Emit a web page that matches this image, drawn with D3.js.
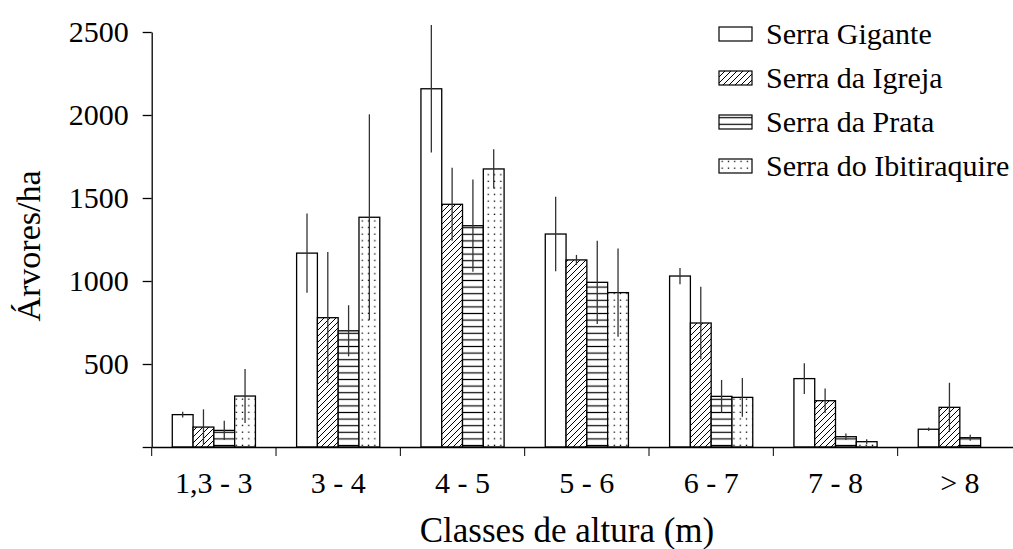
<!DOCTYPE html>
<html>
<head>
<meta charset="utf-8">
<script src="https://cdn.jsdelivr.net/npm/d3@7"></script>
<style>
  body { margin: 0; background: #fff; }
  svg { display: block; }
</style>
</head>
<body>
<svg id="chart" width="1013" height="549"></svg>
<script>
// height classes
const classes = ["1,3 - 3", "3 - 4", "4 - 5", "5 - 6", "6 - 7", "7 - 8", "> 8"];
const sites = ["Serra Gigante", "Serra da Igreja", "Serra da Prata", "Serra do Ibitiraquire"];

// trees per ha, one array per site (same order as classes)
const gigante = [195, 1168, 2158, 1283, 1030, 412, 107];
const igreja = [120, 779, 1462, 1127, 747, 279, 239];
const prata = [100, 700, 1333, 992, 305, 62, 56];
const ibitiraquire = [307, 1384, 1675, 930, 299, 32, 0];

// error bar half lengths
const giganteErr = [17, 239, 384, 225, 49, 93, 10];
const igrejaErr = [107, 395, 220, 30, 219, 74, 148];
const prataErr = [58, 154, 278, 251, 99, 20, 18];
const ibitiraquireErr = [163, 620, 118, 266, 117, 15, 0];

const yTicks = [0, 500, 1000, 1500, 2000, 2500];

const values = [gigante, igreja, prata, ibitiraquire];
const errors = [giganteErr, igrejaErr, prataErr, ibitiraquireErr];
const fills = ["#fff", "url(#diag)", "url(#horiz)", "url(#dots)"];
const FONT = "Liberation Serif, Tinos, Noto Serif, DejaVu Serif, Times, serif";

const svg = d3.select("#chart").attr("font-family", FONT);

const x = d3.scaleBand().domain(classes).range([151.7, 1022]).padding(0);
const xs = d3.scaleBand().domain(sites).range([0, x.bandwidth()]).paddingInner(0).paddingOuter(0.99);
const y = d3.scaleLinear().domain([0, 2500]).range([447, 32]);

// patterns
const defs = svg.append("defs");
const diag = defs.append("pattern").attr("id", "diag")
  .attr("patternUnits", "userSpaceOnUse").attr("width", 6).attr("height", 6);
diag.append("rect").attr("width", 6).attr("height", 6).attr("fill", "#fff");
diag.append("path").attr("d", "M0,6 L6,0 M-1,1 L1,-1 M5,7 L7,5")
  .attr("stroke", "#000").attr("stroke-width", 1);

const horiz = defs.append("pattern").attr("id", "horiz")
  .attr("patternUnits", "userSpaceOnUse").attr("width", 8).attr("height", 6.6);
horiz.append("rect").attr("width", 8).attr("height", 6.6).attr("fill", "#fff");
horiz.append("line").attr("x1", 0).attr("x2", 8).attr("y1", 3.3).attr("y2", 3.3)
  .attr("stroke", "#000").attr("stroke-width", 1.2);

const dots = defs.append("pattern").attr("id", "dots")
  .attr("patternUnits", "userSpaceOnUse").attr("width", 6.3).attr("height", 6.6);
dots.append("rect").attr("width", 6.3).attr("height", 6.6).attr("fill", "#fff");
dots.append("rect").attr("x", 2.5).attr("y", 2.5).attr("width", 1.3).attr("height", 1.3).attr("fill", "#000");

// bars
const rows = [];
classes.forEach((c, i) => {
  sites.forEach((s, j) => {
    rows.push({ cls: c, site: s, k: j, v: values[j][i], e: errors[j][i] });
  });
});

const g = svg.append("g");
g.selectAll("rect.bar").data(rows.filter(d => d.v > 0)).join("rect")
  .attr("class", "bar")
  .attr("x", d => x(d.cls) + xs(d.site))
  .attr("y", d => y(d.v))
  .attr("width", xs.bandwidth())
  .attr("height", d => y(0) - y(d.v))
  .attr("fill", d => fills[d.k])
  .attr("stroke", "#000")
  .attr("stroke-width", 1.3);

g.selectAll("line.err").data(rows.filter(d => d.e > 0)).join("line")
  .attr("class", "err")
  .attr("x1", d => x(d.cls) + xs(d.site) + xs.bandwidth() / 2)
  .attr("x2", d => x(d.cls) + xs(d.site) + xs.bandwidth() / 2)
  .attr("y1", d => y(d.v + d.e))
  .attr("y2", d => y(Math.max(0, d.v - d.e)))
  .attr("stroke", "#333")
  .attr("stroke-width", 1.3);

// y axis
const yAxis = svg.append("g")
  .attr("transform", "translate(151.7,0)")
  .call(d3.axisLeft(y).tickValues(yTicks).tickSize(9).tickSizeOuter(0)
    .tickPadding(14).tickFormat(d => d === 0 ? "" : d))
  .attr("font-family", FONT)
  .attr("font-size", 30);
yAxis.selectAll("text").attr("fill", "#000");

// x axis
const xAxis = svg.append("g")
  .attr("transform", `translate(0,${y(0)})`)
  .call(d3.axisBottom(x).tickSize(0).tickSizeOuter(0).tickPadding(25))
  .attr("font-family", FONT)
  .attr("font-size", 30);
xAxis.selectAll("text").attr("fill", "#000");
xAxis.append("g").selectAll("line").data(classes).join("line")
  .attr("x1", d => x(d)).attr("x2", d => x(d))
  .attr("y1", 0).attr("y2", 9)
  .attr("stroke", "#000");

svg.selectAll(".domain").attr("stroke", "#000").attr("stroke-width", 1.3);
svg.selectAll(".tick line").attr("stroke", "#000").attr("stroke-width", 1.3);

// axis titles
svg.append("text")
  .attr("x", 567).attr("y", 542)
  .attr("text-anchor", "middle")
  .attr("font-size", 35)
  .text("Classes de altura (m)");

svg.append("text")
  .attr("transform", "translate(40,246) rotate(-90)")
  .attr("text-anchor", "middle")
  .attr("font-size", 34)
  .text("Árvores/ha");

// legend
const legend = svg.append("g").attr("transform", "translate(719,0)");
const items = legend.selectAll("g").data(sites).join("g")
  .attr("transform", (d, i) => `translate(0,${33 + i * 44})`);
items.append("rect")
  .attr("x", 0).attr("y", -6).attr("width", 33).attr("height", 14)
  .attr("fill", (d, i) => fills[i])
  .attr("stroke", "#000").attr("stroke-width", 1.2);
items.append("text")
  .attr("x", 47).attr("y", 0).attr("dy", "0.35em")
  .attr("font-size", 30)
  .text(d => d);
</script>
</body>
</html>
